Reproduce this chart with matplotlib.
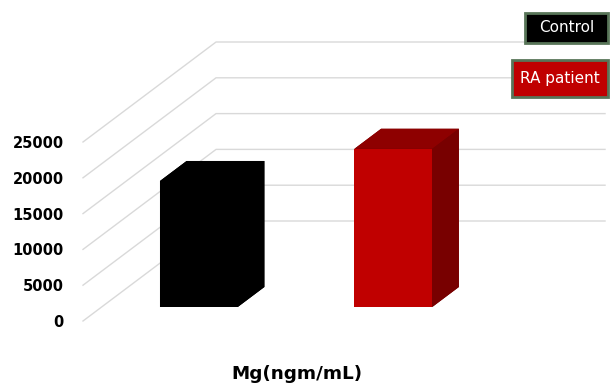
import matplotlib.pyplot as plt
from matplotlib.patches import Polygon, Rectangle

# data
groups = ['Control', 'RA patient']
values = [17600, 22100]
yticks = [0, 5000, 10000, 15000, 20000, 25000]
xlabel = 'Mg(ngm/mL)'

front_colors = ['#000000', '#C00000']
top_colors = ['#000000', '#8E0000']
side_colors = ['#000000', '#780000']

# oblique "3D" look, like the Excel chart
DX = 0.684      # depth shift in category units
DY = 13966      # depth shift in value units
z0, z1 = 0.14, 0.34
w = 0.4

fig = plt.figure(figsize=(6.11, 3.85), dpi=100)
ax = fig.add_axes([83 / 611, 64 / 385, 528 / 611, 321 / 385])
ax.set_xlim(-0.5, -0.5 + 528 / 194.5)
ax.set_ylim(0, 321 * 25000 / 179)
for s in ax.spines.values():
    s.set_visible(False)
ax.set_xticks([])
ax.set_yticks(yticks)
ax.set_yticklabels([str(t) for t in yticks], fontsize=10.5, fontweight='bold')
ax.tick_params(axis='y', length=0, pad=14)

# gridlines: diagonal on the side wall, then flat on the back wall
x_left, x_right = -0.5, -0.5 + len(groups)
for t in yticks:
    ax.plot([x_left, x_left + DX, x_right + DX], [t, t + DY, t + DY],
            color='#d9d9d9', lw=1, zorder=1, clip_on=False)

for i, v in enumerate(values):
    xl = i - w / 2 + z0 * DX
    xr = i + w / 2 + z0 * DX
    yb = z0 * DY
    yt = yb + v
    ddx = (z1 - z0) * DX
    ddy = (z1 - z0) * DY
    # silhouette underneath so no white seams between faces
    outline = [(xl, yb), (xr, yb), (xr + ddx, yb + ddy), (xr + ddx, yt + ddy),
               (xl + ddx, yt + ddy), (xl, yt)]
    ax.add_patch(Polygon(outline, closed=True, fc=side_colors[i], ec='none', zorder=2))
    faces = [
        ([(xl, yb), (xr, yb), (xr, yt), (xl, yt)], front_colors[i]),
        ([(xl, yt), (xr, yt), (xr + ddx, yt + ddy), (xl + ddx, yt + ddy)], top_colors[i]),
        ([(xr, yb), (xr + ddx, yb + ddy), (xr + ddx, yt + ddy), (xr, yt)], side_colors[i]),
    ]
    for pts, c in faces:
        ax.add_patch(Polygon(pts, closed=True, fc=c, ec='none', zorder=3))

fig.text(297 / 611, 11 / 385, xlabel, ha='center', va='center',
         fontsize=13.2, fontweight='bold')

# legend boxes (text boxes in the original)
boxes = [(525, 13, 608, 43), (512, 60, 608, 97)]
for (x0, y0, x1, y1), g, c in zip(boxes, groups, front_colors):
    fig.patches.append(Rectangle((x0 / 611, 1 - y1 / 385), (x1 - x0) / 611, (y1 - y0) / 385,
                                 transform=fig.transFigure, fc=c, ec='#587558', lw=2))
    fig.text((x0 + x1) / 2 / 611, 1 - (y0 + y1) / 2 / 385, g, ha='center', va='center',
             color='white', fontsize=11)

fig.savefig('out.png', dpi=100)
